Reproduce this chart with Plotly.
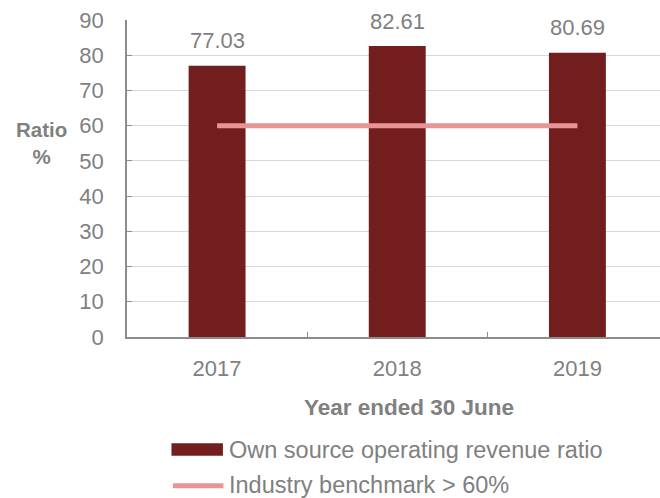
import plotly.graph_objects as go

years = ["2017", "2018", "2019"]
own_ratio = [77.03, 82.61, 80.69]
benchmark = [60, 60, 60]
y_ticks = [0, 10, 20, 30, 40, 50, 60, 70, 80, 90]
bar_name = "Own source operating revenue ratio"
line_name = "Industry benchmark > 60%"

W, H = 660, 498
L, R, T, B = 126.5, 0, 20, 160.5
PW, PH = W - L - R, H - T - B

def px(x):
    return (x - L) / PW

def py(y):
    return (H - B - y) / PH

GRAY = "#808080"
BAR = "#731E1E"
LINE = "#E99494"
FONT = "Liberation Sans, Arial, sans-serif"

fig = go.Figure()
fig.add_trace(go.Bar(x=years, y=own_ratio, name=bar_name, marker_color=BAR,
                     marker_line_width=0, showlegend=False))
fig.add_trace(go.Scatter(x=years, y=benchmark, name=line_name, mode="lines",
                         line=dict(color=LINE, width=5), showlegend=False))

annotations = []
for i, v in enumerate(own_ratio):
    annotations.append(dict(x=i, y=v, xref="x", yref="y", text=f"{v:.2f}",
                            showarrow=False, yanchor="middle", yshift=25,
                            font=dict(size=22, color=GRAY, family=FONT)))
# y axis title
annotations.append(dict(x=px(41), y=py(143.5), xref="paper", yref="paper",
                        text="<b>Ratio</b><br><b>%</b>", showarrow=False,
                        xanchor="center", yanchor="middle", align="center",
                        font=dict(size=20.5, color=GRAY, family=FONT)))
# x axis title
annotations.append(dict(x=px(409), y=py(408), xref="paper", yref="paper",
                        text="<b>Year ended 30 June</b>", showarrow=False,
                        xanchor="center", yanchor="middle",
                        font=dict(size=22.5, color=GRAY, family=FONT)))
# legend texts
annotations.append(dict(x=px(227), y=py(451), xref="paper", yref="paper",
                        text=bar_name, showarrow=False, xanchor="left", yanchor="middle",
                        font=dict(size=23.5, color=GRAY, family=FONT)))
annotations.append(dict(x=px(227), y=py(486), xref="paper", yref="paper",
                        text=line_name, showarrow=False, xanchor="left", yanchor="middle",
                        font=dict(size=23.5, color=GRAY, family=FONT)))

shapes = [
    dict(type="rect", xref="paper", yref="paper", x0=px(171), x1=px(222.5),
         y0=py(456.5), y1=py(444), fillcolor=BAR, line_width=0),
    dict(type="line", xref="paper", yref="paper", x0=px(172.5), x1=px(223),
         y0=py(486.5), y1=py(486.5), line=dict(color=LINE, width=5)),
]

fig.update_layout(
    width=W, height=H,
    margin=dict(l=L, r=R, t=T, b=B),
    plot_bgcolor="white", paper_bgcolor="white",
    bargap=0.684,
    showlegend=False,
    annotations=annotations,
    shapes=shapes,
    font=dict(family=FONT, color=GRAY, size=20),
)
fig.update_xaxes(
    type="category", range=[-0.5, 2.5 - 7.5 / 180.5],
    showline=True, linecolor="#8C8C8C", linewidth=1.5,
    ticks="inside", tickson="boundaries", ticklen=5, tickcolor="#8C8C8C",
    ticklabelstandoff=11,
    tickfont=dict(size=22, color=GRAY, family=FONT),
    showgrid=False, zeroline=False,
)
fig.update_yaxes(
    range=[0, 90], tickvals=y_ticks,
    showline=True, linecolor="#8C8C8C", linewidth=1.5,
    ticks="inside", ticklen=5, tickcolor="#8C8C8C",
    ticklabelstandoff=17,
    tickfont=dict(size=22, color=GRAY, family=FONT),
    showgrid=True, gridcolor="#D9D9D9", gridwidth=1.2, zeroline=False,
)

fig.write_html("out.html", config={"displayModeBar": False})
with open("out.html", encoding="utf-8") as f:
    html = f.read()
html = html.replace("<body>", '<body style="margin:0;overflow:hidden">', 1)
with open("out.html", "w", encoding="utf-8") as f:
    f.write(html)
